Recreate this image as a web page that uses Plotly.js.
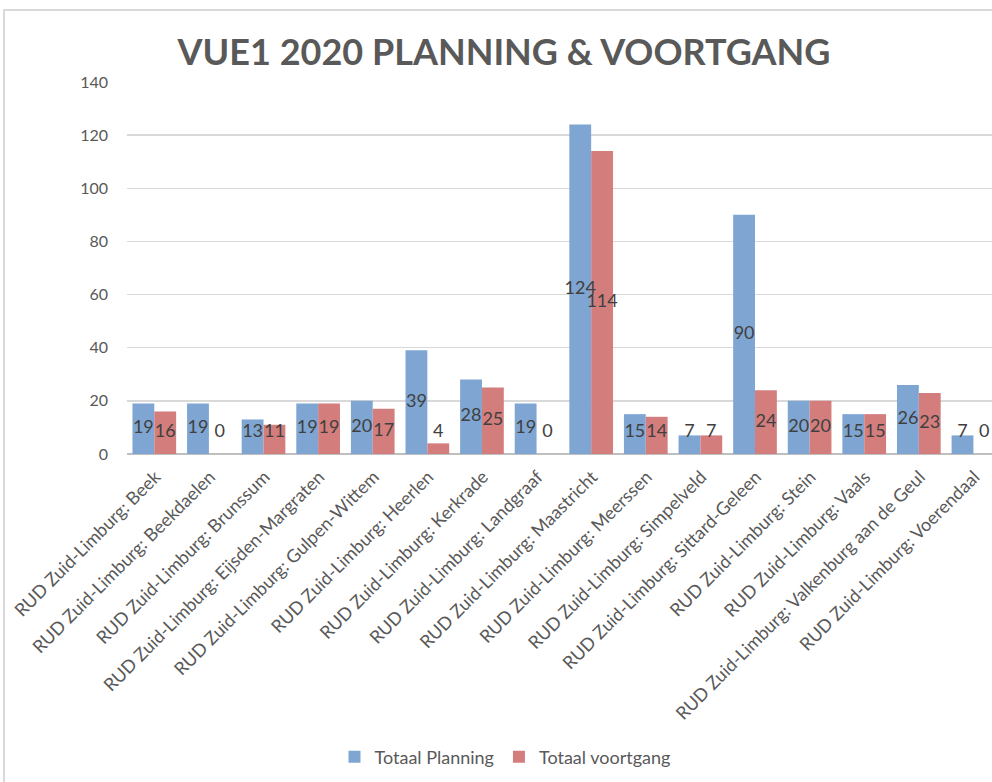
<!DOCTYPE html>
<html>
<head>
<meta charset="utf-8">
<script src="https://cdn.plot.ly/plotly-3.0.1.min.js"></script>
<style>
  html, body { margin: 0; padding: 0; background: #fff; width: 992px; height: 782px; overflow: hidden; }
  #frame { position: absolute; left: 3px; top: 9px; width: 1020px; height: 820px; border: 2px solid #d9d9d9; box-sizing: border-box; }
  #chart { position: absolute; left: 0; top: 0; width: 992px; height: 782px; }
</style>
</head>
<body>
<div id="frame"></div>
<div id="chart"></div>
<script>
const categories = [
  "RUD Zuid-Limburg: Beek",
  "RUD Zuid-Limburg: Beekdaelen",
  "RUD Zuid-Limburg: Brunssum",
  "RUD Zuid-Limburg: Eijsden-Margraten",
  "RUD Zuid-Limburg: Gulpen-Wittem",
  "RUD Zuid-Limburg: Heerlen",
  "RUD Zuid-Limburg: Kerkrade",
  "RUD Zuid-Limburg: Landgraaf",
  "RUD Zuid-Limburg: Maastricht",
  "RUD Zuid-Limburg: Meerssen",
  "RUD Zuid-Limburg: Simpelveld",
  "RUD Zuid-Limburg: Sittard-Geleen",
  "RUD Zuid-Limburg: Stein",
  "RUD Zuid-Limburg: Vaals",
  "RUD Zuid-Limburg: Valkenburg aan de Geul",
  "RUD Zuid-Limburg: Voerendaal"
];
const totaalPlanning = [19, 19, 13, 19, 20, 39, 28, 19, 124, 15, 7, 90, 20, 15, 26, 7];
const totaalVoortgang = [16, 0, 11, 19, 17, 4, 25, 0, 114, 14, 7, 24, 20, 15, 23, 0];
const yTicks = [0, 20, 40, 60, 80, 100, 120, 140];

const FONT = "Lato, 'Open Sans', sans-serif";
const GREY = "#595959";
const blue = "#7FA6D3";
const red = "#D47D7D";

const idx = categories.map((c, i) => i);
const barW = 0.4;
// label height rule (Excel centre labels, with a minimum for short bars)
const labelY = v => Math.max(v / 2, 8);

const traces = [
  {
    type: "bar", name: "Totaal Planning", x: idx, y: totaalPlanning,
    width: barW, offset: -barW, marker: { color: blue },
    hoverinfo: "y"
  },
  {
    type: "bar", name: "Totaal voortgang", x: idx, y: totaalVoortgang,
    width: barW, offset: 0, marker: { color: red },
    hoverinfo: "y"
  },
  {
    type: "scatter", mode: "text", showlegend: false, hoverinfo: "skip",
    x: idx.map(i => i - barW / 2), y: totaalPlanning.map(labelY),
    text: totaalPlanning.map(String), textposition: "middle center",
    textfont: { family: FONT, size: 18, color: "#404040" }, cliponaxis: false
  },
  {
    type: "scatter", mode: "text", showlegend: false, hoverinfo: "skip",
    x: idx.map(i => i + barW / 2), y: totaalVoortgang.map(labelY),
    text: totaalVoortgang.map(String), textposition: "middle center",
    textfont: { family: FONT, size: 18, color: "#404040" }, cliponaxis: false
  }
];

const layout = {
  width: 992, height: 782,
  margin: { l: 127, r: 0, t: 82, b: 328 },
  paper_bgcolor: "rgba(0,0,0,0)",
  plot_bgcolor: "rgba(0,0,0,0)",
  font: { family: FONT, color: GREY },
  title: {
    text: "<b>VUE1 2020 PLANNING &amp; VOORTGANG</b>",
    font: { family: FONT, size: 36, color: GREY },
    x: 504 / 992, xanchor: "center", xref: "container",
    y: 1 - 52 / 782, yanchor: "middle", yref: "container"
  },
  xaxis: {
    range: [-0.5, 15.34],
    tickmode: "array", tickvals: idx, ticktext: categories,
    tickangle: -45, tickfont: { family: FONT, size: 18, color: GREY },
    showgrid: false, zeroline: false, showline: false, ticks: "",
    ticklabelstandoff: 8, ticklabelshift: 1,
    fixedrange: true
  },
  yaxis: {
    range: [0, 140], tickmode: "array", tickvals: yTicks,
    tickfont: { family: FONT, size: 16, color: GREY },
    showgrid: true, gridcolor: "#d9d9d9", gridwidth: 1.5,
    zeroline: true, zerolinecolor: "#bfbfbf", zerolinewidth: 2,
    showline: false, ticks: "", ticklabelstandoff: 18,
    fixedrange: true
  },
  bargap: 0.2, bargroupgap: 0,
  showlegend: true,
  legend: {
    orientation: "h", x: (505 - 127) / 865, xanchor: "center",
    y: (454 - 757) / 372, yanchor: "middle",
    font: { family: FONT, size: 18, color: GREY },
    itemwidth: 30, tracegroupgap: 0
  }
};

Plotly.newPlot("chart", traces, layout, { displayModeBar: false, staticPlot: true });
</script>
</body>
</html>
